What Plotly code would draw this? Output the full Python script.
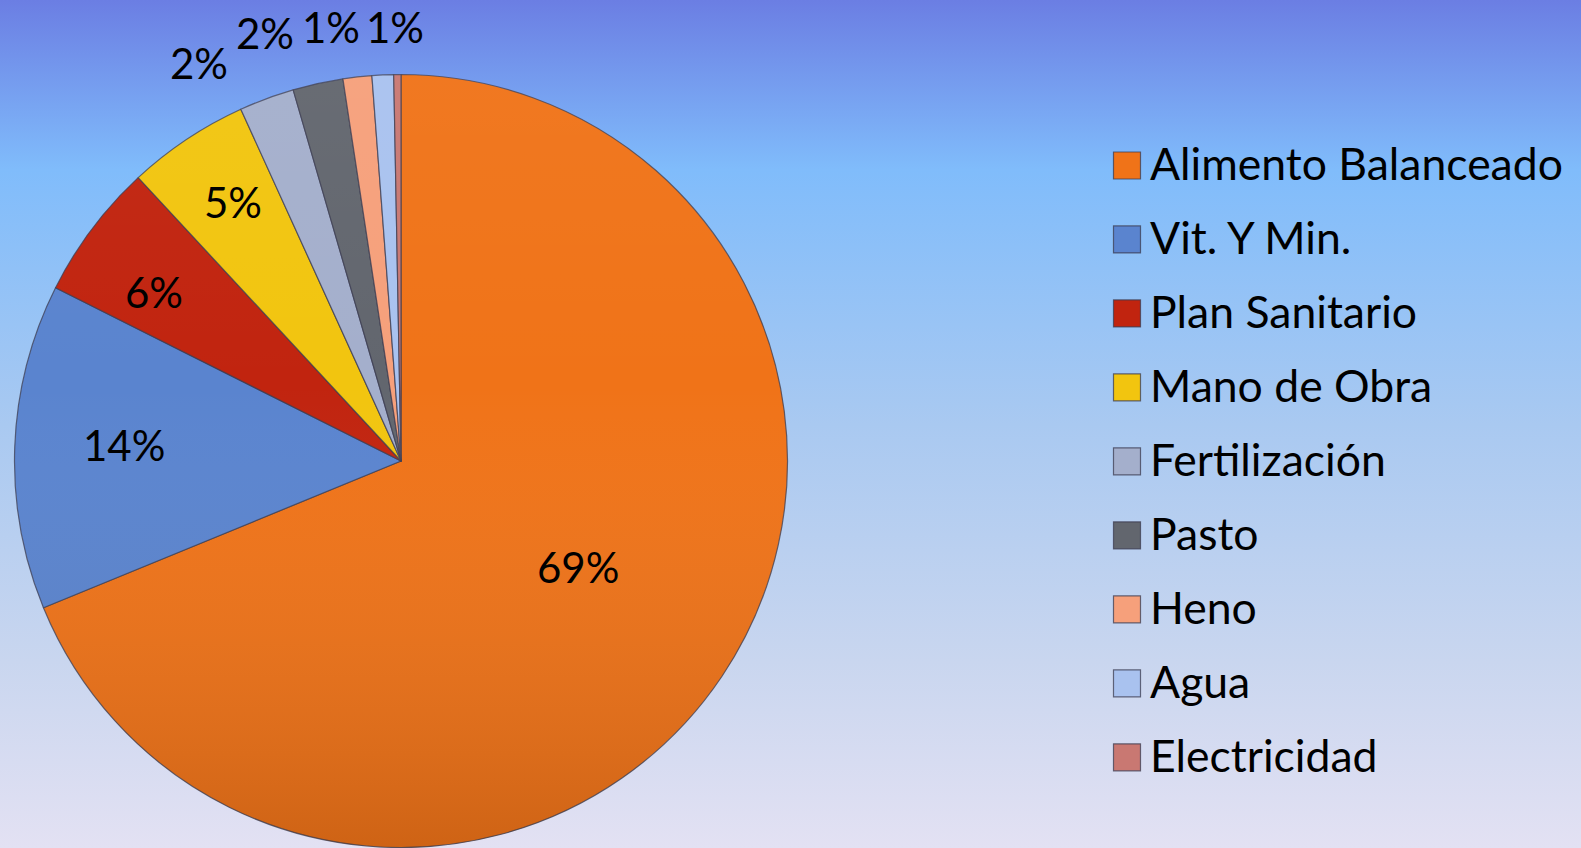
import base64
import plotly.graph_objects as go

# Cost breakdown (share of total production cost, %)
categories = [
    "Alimento Balanceado", "Vit. Y Min.", "Plan Sanitario", "Mano de Obra",
    "Fertilización", "Pasto", "Heno", "Agua", "Electricidad",
]
shares = [68.8, 13.6, 5.7, 5.1, 2.3, 2.1, 1.2, 0.9, 0.3]

slice_colors = [
    "#F07318", "#5A84CF", "#C1240F", "#F2C50F",
    "#A4AFCC", "#62666E", "#F6A07B", "#A9C2EF", "#C97872",
]

FONT = "Lato"
TEXT_SIZE = 42
LEGEND_TEXT = 44.5
LEGEND_ROW = 54.6  # legend font size used only for row spacing

legend_names = [
    f'<span style="font-size:{LEGEND_TEXT}px">{c}</span>' for c in categories
]

W, H = 1581, 848
PIE_X = [14.5 / W, 787.5 / W]
PIE_Y = [0, 1 - 74 / H]


def svg_uri(body):
    svg = ('<svg xmlns="http://www.w3.org/2000/svg" width="100" height="100" '
           'viewBox="0 0 100 100" preserveAspectRatio="none">' + body + '</svg>')
    return "data:image/svg+xml;base64," + base64.b64encode(svg.encode()).decode()


# soft vertical gradient backdrop
bg_uri = svg_uri(
    '<defs><linearGradient id="g" x1="0" y1="0" x2="0" y2="1">'
    '<stop offset="0" stop-color="#6B7EE3"/>'
    '<stop offset="0.2" stop-color="#80BCFB"/>'
    '<stop offset="0.5" stop-color="#A9C9F1"/>'
    '<stop offset="0.78" stop-color="#C9D6EF"/>'
    '<stop offset="1" stop-color="#E3E1F3"/>'
    '</linearGradient></defs>'
    '<rect width="100" height="100" fill="url(#g)"/>'
)
# light-to-dark sheen laid over the pie disc
sheen_uri = svg_uri(
    '<defs><linearGradient id="s" x1="0" y1="0" x2="0" y2="1">'
    '<stop offset="0" stop-color="#ffffff" stop-opacity="0.04"/>'
    '<stop offset="0.4" stop-color="#ffffff" stop-opacity="0"/>'
    '<stop offset="1" stop-color="#000000" stop-opacity="0.14"/>'
    '</linearGradient></defs>'
    '<circle cx="50" cy="50" r="50" fill="url(#s)"/>'
)

fig = go.Figure(
    go.Pie(
        labels=legend_names,
        values=shares,
        sort=False,
        direction="clockwise",
        rotation=0,
        marker=dict(colors=slice_colors,
                    line=dict(color="rgba(60,60,80,0.75)", width=1.2)),
        textinfo="none",
        hoverinfo="label+percent",
        automargin=False,
        domain=dict(x=PIE_X, y=PIE_Y),
    )
)

# percentage labels: inside the four large slices, in a row above the thin ones
total = sum(shares)
label_px = [(578, 567), (124, 445), (154, 292), (233, 202),
            (199, 63), (265, 33), (331, 27), (395, 27)]
annotations = []
for share, (px, py) in zip(shares, label_px):
    annotations.append(dict(
        text=f"{round(100 * share / total)}%",
        x=px / W, y=1 - py / H, xref="paper", yref="paper",
        xanchor="center", yanchor="middle", showarrow=False,
        font=dict(family=FONT, size=TEXT_SIZE, color="black"),
    ))

fig.update_layout(
    width=W,
    height=H,
    margin=dict(l=0, r=0, t=0, b=0, pad=0, autoexpand=False),
    paper_bgcolor="rgba(0,0,0,0)",
    plot_bgcolor="rgba(0,0,0,0)",
    font=dict(family=FONT, color="black"),
    showlegend=True,
    legend=dict(
        x=1110 / W,
        xanchor="left",
        y=1 - 117 / H,
        yanchor="top",
        font=dict(family=FONT, size=LEGEND_ROW, color="black"),
        bgcolor="rgba(0,0,0,0)",
        borderwidth=0,
    ),
    annotations=annotations,
    images=[
        dict(source=bg_uri, xref="paper", yref="paper", x=0, y=1,
             sizex=1, sizey=1, sizing="stretch", layer="below"),
        dict(source=sheen_uri, xref="paper", yref="paper",
             x=PIE_X[0], y=PIE_Y[1], sizex=PIE_X[1] - PIE_X[0],
             sizey=PIE_Y[1] - PIE_Y[0], sizing="stretch", layer="above"),
    ],
)

# enlarge the legend swatches and sit them on the text baseline
post = """
var gd = document.getElementById('{plot_id}');
function bigSwatches() {
  gd.querySelectorAll('path.legendpie').forEach(function (p) {
    p.setAttribute('d', 'M10.5,20H-16.5V-7H10.5Z');
  });
}
bigSwatches();
gd.on('plotly_afterplot', bigSwatches);
"""

fig.write_html("out.html", post_script=post)
